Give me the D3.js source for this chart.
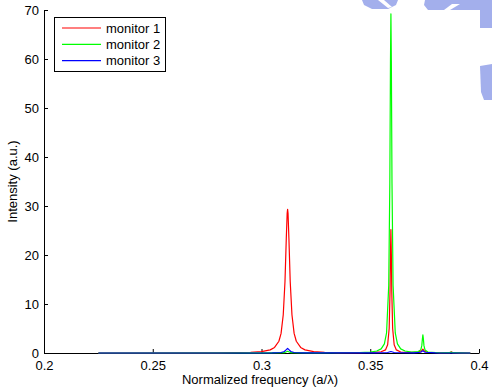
<!DOCTYPE html>
<html>
<head>
<meta charset="utf-8">
<script src="https://cdn.jsdelivr.net/npm/d3@7"></script>
<style>
  html, body { margin: 0; padding: 0; background: #fff; }
  svg { display: block; }
  text { font-family: "Liberation Sans", Arial, Helvetica, sans-serif; fill: #000; }
</style>
</head>
<body>
<svg id="chart" width="492" height="391"></svg>
<script>
// Spectra recorded at three monitors: normalized frequency (a/λ) vs intensity (a.u.)
const freq1 = [0.225, 0.280, 0.295, 0.300, 0.304, 0.306, 0.308, 0.309, 0.310, 0.3108, 0.3114, 0.3118, 0.3120,
  0.3122, 0.3126, 0.3132, 0.314, 0.315, 0.316, 0.318, 0.320, 0.324, 0.329, 0.335, 0.345, 0.352, 0.355, 0.357,
  0.358, 0.3587, 0.3591, 0.3593, 0.3595, 0.3597, 0.3599, 0.3603, 0.361, 0.362, 0.364, 0.368, 0.372, 0.3735,
  0.3742, 0.3749, 0.3765, 0.382, 0.3865, 0.3872, 0.3879, 0.392, 0.396];
const int1 = [0, 0.02, 0.15, 0.29, 0.64, 1.13, 2.4, 4.0, 7.8, 14.6, 23.4, 28.5, 29.3,
  28.5, 23.4, 14.6, 7.8, 4.0, 2.4, 1.13, 0.64, 0.29, 0.15, 0.08, 0.06, 0.15, 0.25, 0.63,
  1.67, 5.0, 12.6, 20.2, 25.2, 20.2, 12.6, 5.0, 1.67, 0.63, 0.2, 0.12, 0.2, 0.4,
  0.8, 0.4, 0.15, 0.05, 0.08, 0.22, 0.08, 0.02, 0];

const freq2 = [0.225, 0.300, 0.3105, 0.312, 0.3135, 0.325, 0.345, 0.350, 0.353, 0.355, 0.3565, 0.3575, 0.3585,
  0.359, 0.3593, 0.3595, 0.3597, 0.360, 0.3605, 0.3615, 0.3625, 0.364, 0.366, 0.369, 0.372, 0.3732, 0.3737,
  0.374, 0.3742, 0.3744, 0.3747, 0.3752, 0.3765, 0.382, 0.3865, 0.3872, 0.3879, 0.392, 0.396];
const int2 = [0, 0.01, 0.06, 0.35, 0.06, 0.01, 0.1, 0.19, 0.41, 0.84, 1.87, 4.1, 13.8,
  34.6, 59.6, 69.2, 59.6, 34.6, 13.8, 4.1, 1.87, 0.84, 0.41, 0.19, 0.3, 0.6, 1.5,
  3.0, 3.7, 3.0, 1.5, 0.6, 0.2, 0.05, 0.06, 0.18, 0.06, 0.01, 0];

const freq3 = [0.225, 0.305, 0.309, 0.3105, 0.3113, 0.312, 0.3127, 0.3135, 0.315, 0.319, 0.352, 0.358, 0.3595,
  0.361, 0.370, 0.3732, 0.3742, 0.3752, 0.380, 0.396];
const int3 = [0, 0.02, 0.1, 0.3, 0.65, 0.95, 0.65, 0.3, 0.1, 0.02, 0.02, 0.1, 0.3,
  0.1, 0.03, 0.15, 0.45, 0.15, 0.02, 0];

const seriesNames = ["monitor 1", "monitor 2", "monitor 3"];
const seriesColors = ["#ff0000", "#00ff00", "#0000ff"];
const xTicks = [0.2, 0.25, 0.3, 0.35, 0.4];
const yTicks = [0, 10, 20, 30, 40, 50, 60, 70];

const svg = d3.select("#chart");
const FONT = 13;

// faint blue backdrop patches around the top-right corner
const wm = svg.append("g").attr("fill", "#a3afec");
wm.append("path").attr("d", "M362,0 L398,0 L396,5 L388,9 L372,9 L364,5 Z");
wm.append("path").attr("d", "M425,0 L492,0 L492,28 L480,28 L480,10 L428,10 L424,5 Z");
wm.append("path").attr("d", "M480,66 L492,64 L492,100 L484,100 L481,92 Z");
wm.append("path").attr("d", "M378,0 L384,0 L392,7 L388,8 Z").attr("fill", "#ffffff");
wm.append("path").attr("d", "M444,10 L452,4 L460,4 L450,10 Z").attr("fill", "#ffffff");

const x = d3.scaleLinear().domain([0.2, 0.4]).range([44, 479]);
const y = d3.scaleLinear().domain([0, 70]).range([353, 10]);

const xAxis = d3.axisBottom(x).tickValues(xTicks).tickFormat(d => String(+d.toFixed(2)))
  .tickSizeInner(-4).tickSizeOuter(0).tickPadding(8);
const yAxis = d3.axisLeft(y).tickValues(yTicks).tickFormat(d3.format("d"))
  .tickSizeInner(-4).tickSizeOuter(0).tickPadding(5);

const gx = svg.append("g").attr("transform", "translate(0,353)").call(xAxis);
const gy = svg.append("g").attr("transform", "translate(44,0)").call(yAxis);
[gx, gy].forEach(g => {
  g.selectAll("path, line").attr("stroke", "#000").attr("stroke-width", 1);
  g.selectAll("text").attr("font-size", FONT).attr("font-family", "Liberation Sans, Arial, sans-serif");
});

const line = d3.line().x(d => x(d[0])).y(d => y(d[1]));
const series = [[freq1, int1], [freq2, int2], [freq3, int3]];
series.forEach(([f, v], i) => {
  svg.append("path")
    .datum(f.map((fx, k) => [fx, v[k]]))
    .attr("fill", "none")
    .attr("stroke", seriesColors[i])
    .attr("stroke-width", 1.2)
    .attr("stroke-linejoin", "round")
    .attr("d", line);
});

// axis titles
svg.append("text").attr("x", 260).attr("y", 384).attr("text-anchor", "middle")
  .attr("font-size", FONT).text("Normalized frequency (a/λ)");
svg.append("text").attr("transform", "translate(17,181.5) rotate(-90)").attr("text-anchor", "middle")
  .attr("font-size", FONT).text("Intensity (a.u.)");

// legend
const lg = svg.append("g");
lg.append("rect").attr("x", 54.5).attr("y", 17.5).attr("width", 111).attr("height", 54)
  .attr("fill", "#fff").attr("stroke", "#000").attr("stroke-width", 1);
seriesNames.forEach((name, i) => {
  const yy = 28 + i * 16.3;
  lg.append("line").attr("x1", 62).attr("x2", 101).attr("y1", yy).attr("y2", yy)
    .attr("stroke", seriesColors[i]).attr("stroke-width", 1.2);
  lg.append("text").attr("x", 106).attr("y", yy + 4.5).attr("font-size", FONT).text(name);
});
</script>
</body>
</html>
